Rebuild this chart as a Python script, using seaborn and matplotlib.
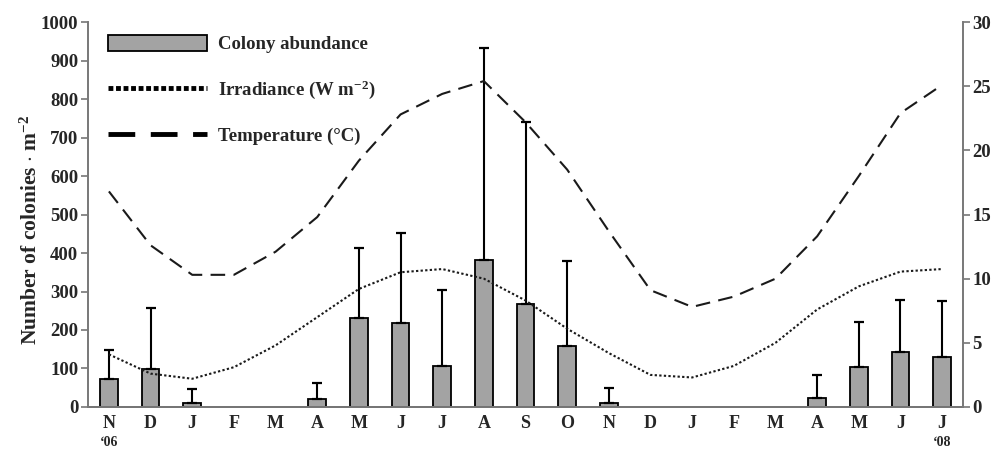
import numpy as np
import pandas as pd
import matplotlib
matplotlib.use("Agg")
import matplotlib.pyplot as plt
import seaborn as sns
from matplotlib.patches import Patch
from matplotlib.lines import Line2D
from matplotlib.transforms import blended_transform_factory

sns.set_theme(style="white")
plt.rcParams["font.family"] = ["Liberation Serif", "DejaVu Serif"]
plt.rcParams["font.weight"] = "bold"
plt.rcParams["mathtext.fontset"] = "custom"
plt.rcParams["mathtext.rm"] = "Liberation Serif:bold"
plt.rcParams["mathtext.default"] = "rm"

# Monthly samples, Nov 2006 - Jul 2008
months = ["N", "D", "J", "F", "M", "A", "M", "J", "J", "A", "S", "O",
          "N", "D", "J", "F", "M", "A", "M", "J", "J"]
abundance = [73, 98, 10, 0, 0, 21, 231, 217, 107, 383, 268, 158,
             10, 0, 0, 0, 0, 23, 103, 142, 129]
abundance_sd = [75, 158, 36, 0, 0, 42, 183, 234, 196, 549, 472, 220,
                40, 0, 0, 0, 0, 60, 119, 135, 146]
irradiance = [4.1, 2.6, 2.2, 3.1, 4.8, 7.0, 9.2, 10.5, 10.75, 10.0, 8.3, 6.1,
              4.2, 2.5, 2.3, 3.2, 5.0, 7.6, 9.4, 10.55, 10.75]
temperature = [16.8, 12.6, 10.3, 10.3, 12.1, 14.8, 19.2, 22.8, 24.4, 25.4, 22.2, 18.5,
               13.7, 9.1, 7.8, 8.6, 10.0, 13.3, 18.0, 22.9, 25.1]
year_labels = {0: "\u201806", 20: "\u201808"}

pos = np.arange(len(months))
df = pd.DataFrame({"pos": pos, "abundance": abundance, "sd": abundance_sd,
                   "irradiance": irradiance, "temperature": temperature})

fig = plt.figure(figsize=(10.01, 4.51), dpi=100)
ax = fig.add_axes([0.088, 0.0976, 0.874, 0.8535])

sns.barplot(data=df, x="pos", y="abundance", color="#a3a3a3", saturation=1,
            edgecolor="black", linewidth=1.3, width=0.42, ax=ax, zorder=2)
# months without colonies get no visible bar outline
for patch in ax.patches:
    if patch.get_height() == 0:
        patch.set_visible(False)

has = df["abundance"] > 0
ax.errorbar(df.loc[has, "pos"], df.loc[has, "abundance"],
            yerr=[np.zeros(has.sum()), df.loc[has, "sd"]],
            fmt="none", ecolor="black", elinewidth=1.5, capsize=3.5,
            capthick=1.6, zorder=3)

ax.set_xlim(-0.5, len(months) - 0.5)
ax.set_ylim(0, 1000)
ax.set_yticks(np.arange(0, 1001, 100))
ax.set_xticks(pos)
ax.set_xticklabels(months, fontsize=13, fontweight="bold")
ax.tick_params(axis="x", length=0, pad=6)
ax.set_xticks(np.arange(-0.5, len(months), 1), minor=True)
ax.tick_params(axis="x", which="minor", length=5, width=1.2, color="#555555",
               direction="out")
ax.tick_params(axis="y", length=5, width=1.2, color="#777777", direction="out",
               labelsize=13.5, pad=2)
for lab in ax.get_yticklabels():
    lab.set_fontweight("bold")
ax.set_xlabel("")
ax.set_ylabel(r"Number of colonies $\cdot$ m$^{-2}$", fontsize=15.5,
              fontweight="bold")
ax.yaxis.set_label_coords(-0.053, 0.46)

trans = blended_transform_factory(ax.transData, ax.transAxes)
for i, txt in year_labels.items():
    ax.text(i, -0.075, txt, transform=trans, ha="center", va="top",
            fontsize=10, fontweight="bold")

ax2 = ax.twinx()
sns.lineplot(data=df, x="pos", y="irradiance", ax=ax2, color="#1a1a1a",
             linewidth=1.5, linestyle=(0, (1.1, 1.1)), zorder=4)
sns.lineplot(data=df, x="pos", y="temperature", ax=ax2, color="#1a1a1a",
             linewidth=1.5, linestyle=(0, (7, 4)), zorder=4)
ax2.set_ylim(0, 30)
ax2.set_yticks(np.arange(0, 31, 5))
ax2.set_ylabel("")
ax2.tick_params(axis="y", length=5, width=1.2, color="#777777", direction="out",
                labelsize=13.5, pad=2)
for lab in ax2.get_yticklabels():
    lab.set_fontweight("bold")
ax2.set_xlim(-0.5, len(months) - 0.5)

for a in (ax, ax2):
    a.spines["top"].set_visible(False)
    a.grid(False)
    for side in ("left", "right", "bottom"):
        a.spines[side].set_color("#7a7a7a")
        a.spines[side].set_linewidth(1.3)
ax.spines["bottom"].set_color("#444444")

handles = [
    Patch(facecolor="#a3a3a3", edgecolor="black", linewidth=1.3),
    Line2D([], [], color="black", linewidth=3.5, linestyle=(0, (1.0, 0.55))),
    Line2D([], [], color="black", linewidth=3.5, linestyle=(0, (5.5, 3.2))),
]
labels = ["Colony abundance", r"Irradiance (W m$^{-2}$)", "Temperature (\u00b0C)"]
leg = ax2.legend(handles, labels, loc="upper left", bbox_to_anchor=(0.003, 1.01),
                 frameon=False, handlelength=5.3, handleheight=0.9,
                 handletextpad=0.6, labelspacing=1.35,
                 prop={"family": "Liberation Serif", "weight": "bold", "size": 13.5})

fig.savefig("out.png", dpi=100)
